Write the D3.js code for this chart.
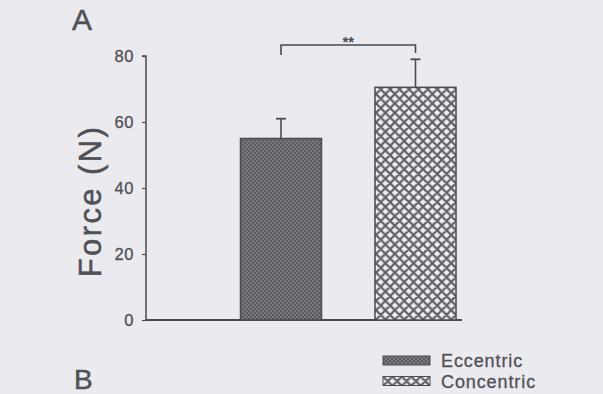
<!DOCTYPE html>
<html>
<head>
<meta charset="utf-8">
<script src="https://cdn.jsdelivr.net/npm/d3@7/dist/d3.min.js"></script>
<style>
  html, body { margin: 0; padding: 0; background: #eaeaef; }
  svg { display: block; }
  text { font-family: "Liberation Sans", Arial, Helvetica, sans-serif; }
</style>
</head>
<body>
<svg id="chart" width="603" height="394"></svg>
<script>
// Mean force per contraction type, with SD upper bound
const categories = ["Eccentric", "Concentric"];
const means = [55, 70.5];
const errTops = [61, 79];
const yTicks = [0, 20, 40, 60, 80];
const sigLabel = "**";
const yLabel = "Force (N)";
const panelLabels = ["A", "B"];

const svg = d3.select("#chart");
const ink = "#4a4a50";
const textInk = "#505056";

svg.append("rect").attr("width", 603).attr("height", 394).attr("fill", "#eaeaef");

// Fill patterns
const defs = svg.append("defs");
const dots = defs.append("pattern")
  .attr("id", "pat-ecc").attr("patternUnits", "userSpaceOnUse")
  .attr("width", 4).attr("height", 4);
dots.append("rect").attr("width", 4).attr("height", 4).attr("fill", "#5a5a60");
dots.append("rect").attr("x", 0.4).attr("y", 0.4).attr("width", 1.3).attr("height", 1.3).attr("fill", "#a4a4ab");
dots.append("rect").attr("x", 2.4).attr("y", 2.4).attr("width", 1.3).attr("height", 1.3).attr("fill", "#a4a4ab");

const hatch = defs.append("pattern")
  .attr("id", "pat-con").attr("patternUnits", "userSpaceOnUse")
  .attr("width", 9.4).attr("height", 9.4);
hatch.append("rect").attr("width", 9.4).attr("height", 9.4).attr("fill", "#efeff3");
hatch.append("path")
  .attr("d", "M0,0L9.4,9.4M0,9.4L9.4,0M-1,1L1,-1M8.4,10.4L10.4,8.4M-1,8.4L1,10.4M8.4,-1L10.4,1")
  .attr("stroke", "#626268").attr("stroke-width", 2.2);

const fills = { Eccentric: "url(#pat-ecc)", Concentric: "url(#pat-con)" };

// Scales
const y = d3.scaleLinear().domain([0, 80]).range([320, 56]);
const x = d3.scalePoint().domain(categories).range([281, 415.5]);
const barW = 81;
const axisX = 146;

// Y axis
const yAxis = svg.append("g")
  .attr("transform", `translate(${axisX},0)`)
  .call(d3.axisLeft(y).tickValues(yTicks).tickSize(4).tickPadding(8).tickFormat(d3.format("d")));
yAxis.select(".domain").attr("d", `M-4,${y(80)}H0V${y(0)}`).attr("stroke", ink).attr("stroke-width", 1.5).attr("fill", "none");
yAxis.selectAll(".tick line").attr("stroke", ink).attr("stroke-width", 1.2);
yAxis.selectAll(".tick text")
  .attr("fill", textInk).attr("font-size", 16.5)
  .attr("letter-spacing", 0.6)
  .attr("stroke", textInk).attr("stroke-width", 0.3)
  .attr("font-family", "Liberation Sans, Arial, sans-serif");

// Baseline
svg.append("line")
  .attr("x1", axisX).attr("x2", 462)
  .attr("y1", y(0)).attr("y2", y(0))
  .attr("stroke", ink).attr("stroke-width", 2);

// Bars
const data = categories.map((c, i) => ({ c, m: means[i], e: errTops[i] }));
svg.selectAll("rect.bar").data(data).join("rect")
  .attr("class", "bar")
  .attr("x", d => x(d.c) - barW / 2)
  .attr("y", d => y(d.m))
  .attr("width", barW)
  .attr("height", d => y(0) - y(d.m))
  .attr("fill", d => fills[d.c])
  .attr("stroke", ink).attr("stroke-width", 1.5);

// Error bars
const eb = svg.selectAll("g.err").data(data).join("g").attr("class", "err");
eb.append("line")
  .attr("x1", d => x(d.c)).attr("x2", d => x(d.c))
  .attr("y1", d => y(d.m)).attr("y2", d => y(d.e))
  .attr("stroke", ink).attr("stroke-width", 1.6);
eb.append("line")
  .attr("x1", d => x(d.c) - 5).attr("x2", d => x(d.c) + 5)
  .attr("y1", d => y(d.e)).attr("y2", d => y(d.e))
  .attr("stroke", ink).attr("stroke-width", 1.8);

// Significance bracket
const bTop = 45;
svg.append("path")
  .attr("d", `M${x(categories[0])},${bTop + 10}V${bTop}H${x(categories[1])}V${bTop + 8}`)
  .attr("fill", "none").attr("stroke", ink).attr("stroke-width", 1.6);
svg.append("text")
  .attr("x", (x(categories[0]) + x(categories[1])) / 2).attr("y", 47)
  .attr("text-anchor", "middle").attr("font-size", 15).attr("font-weight", "bold")
  .attr("fill", ink).text(sigLabel);

// Y label
svg.append("text")
  .attr("transform", `translate(101,201) rotate(-90)`)
  .attr("text-anchor", "middle").attr("font-size", 31)
  .attr("letter-spacing", 2.4)
  .attr("stroke", textInk).attr("stroke-width", 0.5)
  .attr("fill", textInk).text(yLabel);

// Panel letters
svg.append("text").attr("x", 72).attr("y", 30).attr("font-size", 30)
  .attr("stroke", textInk).attr("stroke-width", 0.5)
  .attr("fill", textInk).text(panelLabels[0]);
svg.append("text").attr("x", 74).attr("y", 389).attr("font-size", 28)
  .attr("stroke", textInk).attr("stroke-width", 0.5)
  .attr("fill", textInk).text(panelLabels[1]);

// Legend
const legend = svg.append("g");
const legRows = legend.selectAll("g").data(categories).join("g")
  .attr("transform", (d, i) => `translate(383,${356 + i * 20.5})`);
legRows.append("rect")
  .attr("width", 47).attr("height", 9)
  .attr("fill", d => fills[d])
  .attr("stroke", ink).attr("stroke-width", 1);
legRows.append("text")
  .attr("x", 58).attr("y", 11)
  .attr("font-size", 18).attr("letter-spacing", 0.9)
  .attr("stroke", textInk).attr("stroke-width", 0.3)
  .attr("fill", textInk)
  .text(d => d);
</script>
</body>
</html>
